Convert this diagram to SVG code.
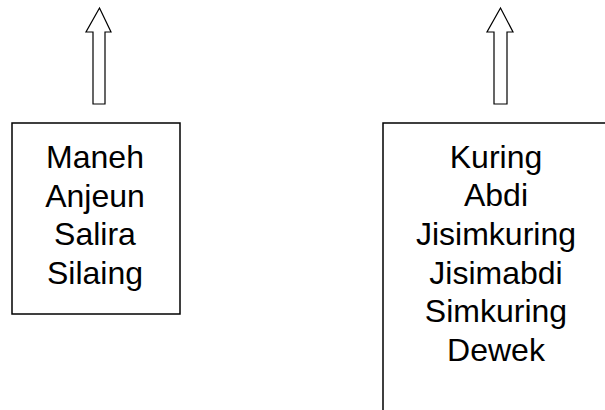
<svg xmlns="http://www.w3.org/2000/svg" width="605" height="410" viewBox="0 0 605 410">
  <style>
    .box { fill: #fff; stroke: #000; stroke-width: 1.5; }
    .arrow { fill: #fff; stroke: #000; stroke-width: 1.2; stroke-linejoin: miter; }
    .label { font-family: "Liberation Sans", Arial, sans-serif; font-size: 32px; fill: #000; text-anchor: middle; }
  </style>
  <rect width="605" height="410" fill="#fff"/>

  <g id="connectors">
    <!-- hollow block arrows pointing up -->
    <path class="arrow" d="M99.5,8 L111,32 L105,32 L105,104 L93,104 L93,32 L86,32 Z"/>
    <path class="arrow" d="M500.5,8 L513,32 L507,32 L507,104 L494,104 L494,32 L487,32 Z"/>
  </g>

  <g id="node-left">
    <rect class="box" x="12" y="123" width="168" height="191"/>
    <text class="label" x="95" y="168">Maneh</text>
    <text class="label" x="95" y="206.5">Anjeun</text>
    <text class="label" x="95" y="245">Salira</text>
    <text class="label" x="95" y="284">Silaing</text>
  </g>

  <g id="node-right">
    <rect class="box" x="383" y="123" width="240" height="300"/>
    <text class="label" x="496" y="168">Kuring</text>
    <text class="label" x="496" y="206">Abdi</text>
    <text class="label" x="496" y="245">Jisimkuring</text>
    <text class="label" x="496" y="284">Jisimabdi</text>
    <text class="label" x="496" y="322">Simkuring</text>
    <text class="label" x="496" y="361">Dewek</text>
  </g>
</svg>
